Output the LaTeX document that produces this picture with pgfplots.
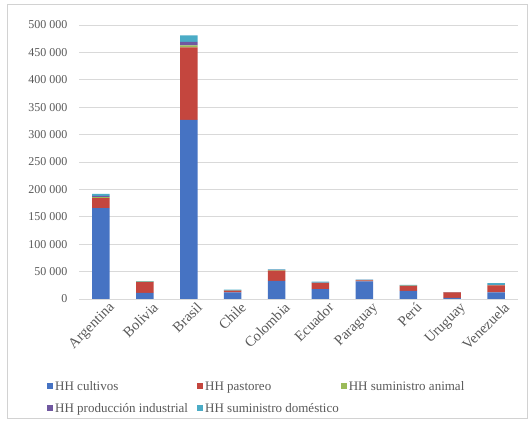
\documentclass[border=0pt]{standalone}
\usepackage{pgfplots}
\pgfplotsset{compat=1.18}
\usepackage{fontspec}
\setmainfont{Liberation Serif}
\definecolor{cCult}{RGB}{70,115,195}
\definecolor{cPast}{RGB}{196,70,62}
\definecolor{cAnim}{RGB}{155,187,89}
\definecolor{cInd}{RGB}{112,88,160}
\definecolor{cDom}{RGB}{75,172,198}
\definecolor{txt}{RGB}{89,89,89}
\definecolor{grd}{RGB}{217,217,217}
\definecolor{frm}{RGB}{210,210,210}
\pgfplotstableread{
x cult past anim ind dom
0 166000 18000 2000 2000 4000
1 11000 20000 500 300 1000
2 327000 132000 4000 6000 12000
3 12000 3000 500 500 1000
4 33000 19000 500 500 1000
5 18000 11000 500 500 1500
6 32000 2000 500 200 500
7 15000 9000 300 300 1000
8 2000 10000 300 100 300
9 12000 13000 500 500 3000
}\datatable
\begin{document}
\begin{tikzpicture}
\path (0pt,0pt) rectangle (529pt,422pt);
\draw[frm, line width=0.8pt] (7pt,4pt) rectangle (527pt,418pt);
\begin{axis}[
  at={(79pt,123pt)}, anchor=south west,
  scale only axis, width=439pt, height=274pt,
  ybar stacked, bar width=17.5pt,
  xmin=-0.5, xmax=9.5, ymin=0, ymax=500000,
  xtick=data,
  xticklabels={Argentina,Bolivia,Brasil,Chile,Colombia,Ecuador,Paraguay,Perú,Uruguay,Venezuela},
  x tick label style={rotate=45, anchor=north east, font=\fontsize{14.5}{16}\selectfont, text=txt, inner sep=0.5pt, xshift=4pt, yshift=-6pt},
  ytick={0,50000,100000,150000,200000,250000,300000,350000,400000,450000,500000},
  yticklabels={0,50 000,100 000,150 000,200 000,250 000,300 000,350 000,400 000,450 000,500 000},
  y tick label style={font=\fontsize{12}{14}\selectfont, text=txt},
  scaled y ticks=false,
  major tick length=0pt,
  ymajorgrids, grid style={grd, line width=0.8pt},
  axis x line*=bottom, axis y line*=left,
  x axis line style={grd, line width=0.8pt, -},
  y axis line style={draw=none},
  yticklabel style={xshift=-8pt},
  legend image code/.code={\fill[#1,draw=none] (0pt,-3pt) rectangle (6pt,3pt);},
  legend style={draw=none, fill=none, at={(-0.0797,-0.281)}, anchor=north west,
    font=\fontsize{13}{15}\selectfont, text=txt, legend columns=3,
    /tikz/every even column/.append style={column sep=0pt},
    row sep=6pt},
  legend cell align=left,
]
\addplot[fill=cCult, draw=none] table[x=x,y=cult]{\datatable};
\addlegendentry{\makebox[140pt][l]{\strut HH cultivos}}
\addplot[fill=cPast, draw=none] table[x=x,y=past]{\datatable};
\addlegendentry{\makebox[110pt][l]{\strut HH pastoreo}}
\addplot[fill=cAnim, draw=none] table[x=x,y=anim]{\datatable};
\addlegendentry{\strut HH suministro animal}
\addplot[fill=cInd, draw=none] table[x=x,y=ind]{\datatable};
\addlegendentry{\makebox[140pt][l]{\strut HH producción industrial}}
\addplot[fill=cDom, draw=none] table[x=x,y=dom]{\datatable};
\addlegendentry{\strut HH suministro doméstico}
\end{axis}
\end{tikzpicture}
\end{document}
